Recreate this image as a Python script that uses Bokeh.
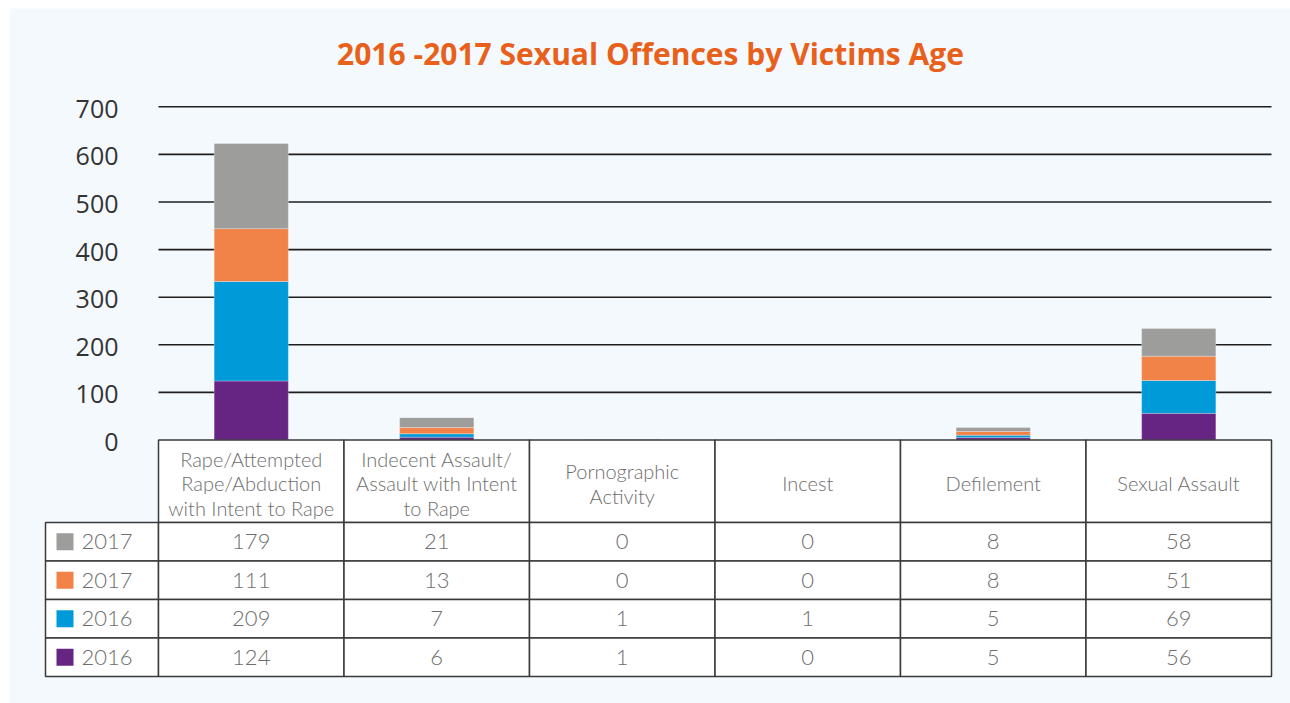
from bokeh.plotting import figure
from bokeh.models import ColumnDataSource, Range1d
from bokeh.core.properties import value
from bokeh.embed import file_html
from bokeh.resources import INLINE

# ---------------- data ----------------
title_text = "2016 -2017 Sexual Offences by Victims Age"
categories = [
    "Rape/Attempted\nRape/Abduction\nwith Intent to Rape",
    "Indecent Assault/\nAssault with Intent\nto Rape",
    "Pornographic\nActivity",
    "Incest",
    "Defilement",
    "Sexual Assault",
]
# stacked bottom -> top
purple_2016 = [124, 6, 1, 0, 5, 56]
blue_2016 = [209, 7, 1, 1, 5, 69]
orange_2017 = [111, 13, 0, 0, 8, 51]
gray_2017 = [179, 21, 0, 0, 8, 58]
series_labels = ["2016", "2016", "2017", "2017"]  # bottom -> top
y_ticks = [0, 100, 200, 300, 400, 500, 600, 700]

# ---------------- styles ----------------
COLORS = ["#662483", "#009AD8", "#F18248", "#9D9D9C"]
BG = "#F4F9FD"
TITLE_COLOR = "#E8601A"
LINE_COLOR = "#3a3a3a"
TEXT_GRAY = "#6e6e6e"

W, H = 1290, 703
X0 = 158.0      # px of category-axis start
CW = 185.5      # px per category
Y0 = 439.5      # px of value 0
PPU = 333.2 / 700.0  # px per value unit


def X(px):
    return (px - X0) / CW


def Y(px):
    return (Y0 - px) / PPU


p = figure(width=W, height=H, output_backend="svg", toolbar_location=None,
           x_range=Range1d(X(0), X(W)), y_range=Range1d(Y(H), Y(0)),
           min_border=0, min_border_left=0, min_border_right=0,
           min_border_top=0, min_border_bottom=0)
p.xaxis.visible = False
p.yaxis.visible = False
p.grid.visible = False
p.background_fill_color = "white"
p.border_fill_color = "white"
p.outline_line_color = None

n = len(categories)

# panel background
p.quad(left=[X(9)], right=[X(W + 2)], top=[Y(8)], bottom=[Y(H + 2)],
       fill_color=BG, line_color=None)

# gridlines (values > 0)
grid_y = [t for t in y_ticks if t > 0]
p.segment(x0=[0] * len(grid_y), x1=[n] * len(grid_y), y0=grid_y, y1=grid_y,
          line_color="#1e1e1e", line_width=1.6)

# y tick labels
p.text(x=[X(118)] * len(y_ticks), y=y_ticks, text=[str(t) for t in y_ticks],
       text_align="right", text_baseline="middle", y_offset=2,
       text_font=value("Open Sans"), text_font_size="25px", text_color="#333333")

# stacked bars
src = ColumnDataSource(dict(
    x=[i + 0.5 for i in range(n)],
    p16=purple_2016, b16=blue_2016, o17=orange_2017, g17=gray_2017,
))
p.vbar_stack(["p16", "b16", "o17", "g17"], x="x", width=0.4, source=src,
             color=COLORS, line_color="#ffffff", line_alpha=0.35, line_width=0.8)

# table
HDR_BOTTOM = 522.0
ROW_H = 38.5
LEFT = 45.0
rows = [gray_2017, orange_2017, blue_2016, purple_2016]  # top -> bottom
row_labels = series_labels[::-1]
row_colors = COLORS[::-1]

ql, qr, qt, qb = [], [], [], []
for i in range(n):
    ql.append(i); qr.append(i + 1); qt.append(0); qb.append(Y(HDR_BOTTOM))
for r in range(len(rows)):
    top = HDR_BOTTOM + r * ROW_H
    bot = top + ROW_H
    ql.append(X(LEFT)); qr.append(0); qt.append(Y(top)); qb.append(Y(bot))
    for i in range(n):
        ql.append(i); qr.append(i + 1); qt.append(Y(top)); qb.append(Y(bot))
p.quad(left=ql, right=qr, top=qt, bottom=qb, fill_color="white",
       line_color=LINE_COLOR, line_width=1.5)

TFONT = value("Lato Light")

# header texts
hx, hy, ht = [], [], []
hc = (Y0 + HDR_BOTTOM) / 2 + 2
for i, c in enumerate(categories):
    lines = c.split("\n")
    m = len(lines)
    for k, ln in enumerate(lines):
        hx.append(i + 0.5)
        hy.append(Y(hc + (k - (m - 1) / 2) * 24.7))
        ht.append(ln)
p.text(x=hx, y=hy, text=ht, text_align="center", text_baseline="middle",
       text_font=TFONT, text_font_size="20px", text_color=TEXT_GRAY)

# values
vx, vy, vt = [], [], []
for r, vals in enumerate(rows):
    cy = Y(HDR_BOTTOM + (r + 0.5) * ROW_H)
    for i, v in enumerate(vals):
        vx.append(i + 0.5); vy.append(cy); vt.append(str(v))
p.text(x=vx, y=vy, text=vt, text_align="center", text_baseline="middle",
       text_font=TFONT, text_font_size="22px", text_color=TEXT_GRAY)

# legend column
ly = [Y(HDR_BOTTOM + (r + 0.5) * ROW_H) for r in range(len(rows))]
p.rect(x=[X(64.5)] * len(rows), y=ly, width=17, height=17,
       width_units="screen", height_units="screen",
       fill_color=row_colors, line_color=None)
p.text(x=[X(81)] * len(rows), y=ly, text=row_labels, text_align="left",
       text_baseline="middle", text_font=TFONT, text_font_size="22px",
       text_color=TEXT_GRAY)

# title
p.text(x=[X(650)], y=[Y(53)], text=[title_text], text_align="center",
       text_baseline="middle", text_font=value("Open Sans"),
       text_font_style="bold", text_font_size="30px", text_color=TITLE_COLOR)

open("out.html", "w").write(file_html(p, INLINE))
